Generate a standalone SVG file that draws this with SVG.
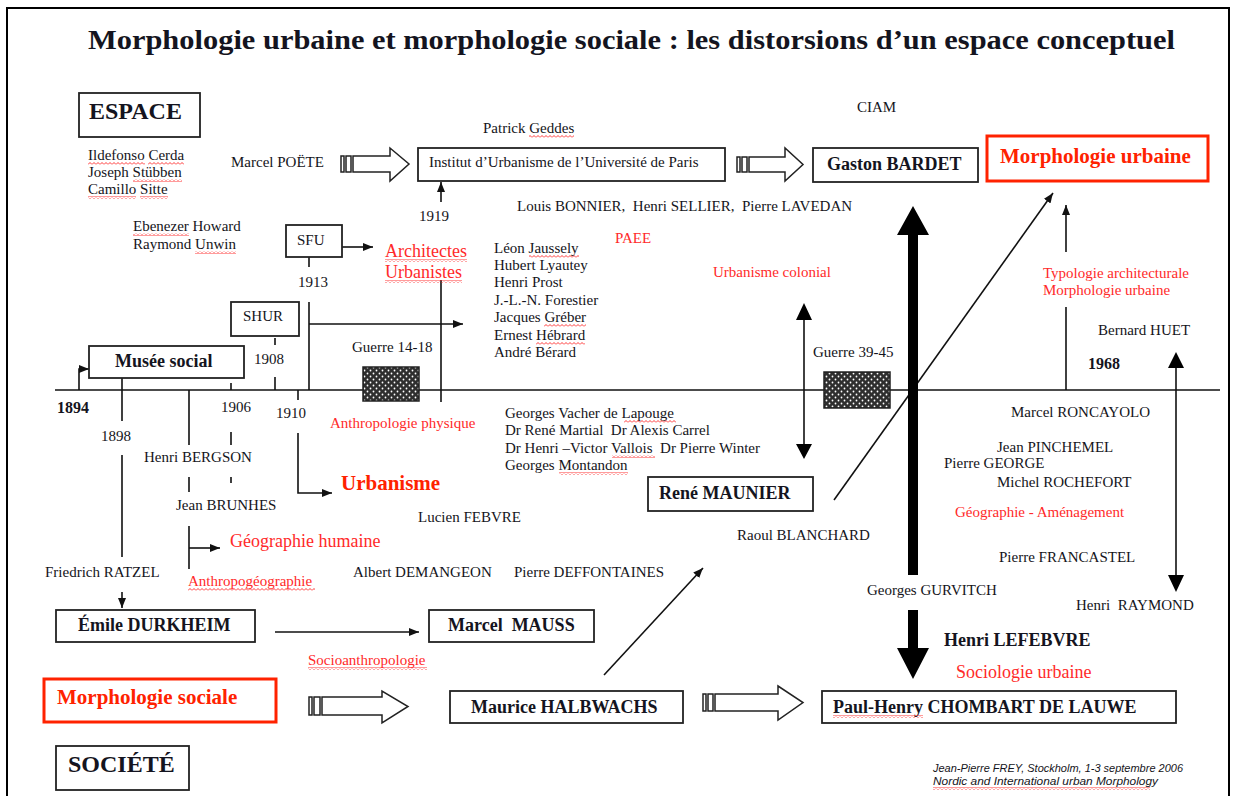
<svg xmlns="http://www.w3.org/2000/svg" width="1243" height="796" viewBox="0 0 1243 796">
<style>
text{font-family:"Liberation Serif","Times New Roman",serif;fill:#141420;white-space:pre}
.t{font-size:15px}
.r{font-size:15px;fill:#ff2a2a}
.rl{font-size:18px;fill:#ff2a2a}
.b{font-size:18px;font-weight:bold}
.bb{font-size:24px;font-weight:bold}
.y{font-size:16px;font-weight:bold}
.rb{font-size:21px;font-weight:bold;fill:#ff2200}
.box{fill:#fff;stroke:#222;stroke-width:1.8}
.rbox{fill:#fff;stroke:#ff2200;stroke-width:3}
.ln{stroke:#111;stroke-width:1.6;fill:none}
.ar{stroke:#111;stroke-width:1.6;fill:none;marker-end:url(#ah)}
.ha{fill:#fff;stroke:#222;stroke-width:1.5}
.war{fill:url(#dots);stroke:#222;stroke-width:1.5}
.sq{fill:url(#wavy)}
.foot{font-family:"Liberation Sans",Arial,sans-serif;font-style:italic;font-size:10px}
</style>
<defs>
<marker id="ah" viewBox="0 0 10 8" refX="10" refY="4" markerWidth="10" markerHeight="8" markerUnits="userSpaceOnUse" orient="auto"><path d="M0 0 L10 4 L0 8 Z" fill="#111"/></marker>
<pattern id="dots" width="6" height="6" patternUnits="userSpaceOnUse"><rect width="6" height="6" fill="#2e2e2e"/><circle cx="1.5" cy="1.5" r="0.9" fill="#fff"/><circle cx="4.5" cy="4.5" r="0.9" fill="#fff"/></pattern>
<pattern id="wavy" width="4" height="3" patternUnits="userSpaceOnUse"><path d="M0 2.5 L2 0.5 L4 2.5" fill="none" stroke="#ff2020" stroke-width="0.9"/></pattern>
</defs>
<rect width="1243" height="796" fill="#fff"/>
<rect x="7" y="8" width="1222" height="800" fill="none" stroke="#000" stroke-width="2"/>
<text x="88" y="49" font-size="27" font-weight="bold" textLength="1087" lengthAdjust="spacingAndGlyphs">Morphologie urbaine et morphologie sociale : les distorsions d’un espace conceptuel</text>

<g id="connectors">
<path class="ln" d="M55 390 H1220" stroke-width="2"/>
<path class="ar" d="M79 390 V369 H89"/>
<path class="ln" d="M122 378 V421 M122 455 V557"/>
<path class="ar" d="M122 592 V608"/>
<path class="ln" d="M189 390 V445 M189 477 V492 M189 526 V569"/>
<path class="ar" d="M189 548 H220"/>
<path class="ln" d="M231 383 V390 M231 432 V445 M231 477 V483"/>
<path class="ln" d="M275 338 V345 M275 377 V390"/>
<path class="ln" d="M298 390 V400"/>
<path class="ar" d="M298 433 V493 H332"/>
<path class="ln" d="M309 302 V390"/>
<path class="ar" d="M309 324 H463"/>
<path class="ln" d="M309 257 V267"/>
<path class="ar" d="M342 247 H373"/>
<path class="ln" d="M441 280 V402"/>
<path class="ar" d="M441 202 V182"/>
<path class="ar" d="M275 632 H419"/>
<path class="ar" d="M604 675 L703 568"/>
<path class="ar" d="M834 500 L1053 193" stroke-width="1.3"/>
<path class="ar" d="M1066 252 V205"/>
<path class="ln" d="M1066 307 V390"/>
<path d="M908 235 H897 L913 206 L929 235 H918 V575 H908 Z" fill="#000"/>
<path d="M908 610 H918 V648 H929 L913 679 L897 648 H908 Z" fill="#000"/>
<path class="ln" d="M804 318 V446" stroke-width="2.5"/>
<path d="M796 320 L804 303 L812 320 Z M796 444 L812 444 L804 459 Z" fill="#000"/>
<path class="ln" d="M1176 366 V577" stroke-width="2.5"/>
<path d="M1168 368 L1176 352 L1184 368 Z M1168 575 L1184 575 L1176 592 Z" fill="#000"/>
<g id="hollow-arrows">
<rect class="ha" x="341" y="156" width="3" height="16"/><rect class="ha" x="346" y="156" width="5" height="16"/>
<path class="ha" d="M353 156 H390 V148 L409 164 L390 181 V172 H353 Z"/>
<rect class="ha" x="737" y="157" width="3" height="15"/><rect class="ha" x="742" y="157" width="5" height="15"/>
<path class="ha" d="M749 157 H785 V148 L803 164.5 L785 181 V172 H749 Z"/>
<rect class="ha" x="309" y="697" width="3" height="18"/><rect class="ha" x="314" y="697" width="6" height="18"/>
<path class="ha" d="M322 697 H382 V691 L408 706.5 L382 723 V715 H322 Z"/>
<rect class="ha" x="703" y="694" width="3" height="17"/><rect class="ha" x="708" y="694" width="5" height="17"/>
<path class="ha" d="M715 694 H778 V686 L803 702.5 L778 720 V711 H715 Z"/>
</g>
</g>

<g id="espace"><rect class="box" x="79" y="93" width="121" height="44"/><text class="bb" x="89" y="119">ESPACE</text></g>
<g id="societe"><rect class="box" x="56" y="746" width="133" height="44"/><text class="bb" x="68" y="772">SOCIÉTÉ</text></g>
<g id="institut"><rect class="box" x="418" y="148" width="307" height="33"/><text class="t" x="429" y="167">Institut d’Urbanisme de l’Université de Paris</text></g>
<g id="bardet"><rect class="box" x="813" y="148" width="165" height="34"/><text class="b" x="827" y="170">Gaston BARDET</text></g>
<g id="morphologie-urbaine"><rect class="rbox" x="987" y="136" width="221" height="45"/><text class="rb" x="1000" y="163">Morphologie urbaine</text></g>
<g id="musee-social"><rect class="box" x="89" y="346" width="155" height="32"/><text class="b" x="115" y="367">Musée social</text></g>
<g id="shur"><rect class="box" x="231" y="302" width="68" height="34"/><text class="t" x="243" y="321">SHUR</text></g>
<g id="sfu"><rect class="box" x="286" y="225" width="56" height="32"/><text class="t" x="297" y="245">SFU</text></g>
<g id="guerre-14-18"><rect class="war" x="363" y="367" width="56" height="34"/><text class="t" x="352" y="352">Guerre 14-18</text></g>
<g id="guerre-39-45"><rect class="war" x="824" y="372" width="66" height="36"/><text class="t" x="813" y="357">Guerre 39-45</text></g>
<g id="durkheim"><rect class="box" x="56" y="610" width="199" height="32"/><text class="b" x="78" y="631">Émile DURKHEIM</text></g>
<g id="mauss"><rect class="box" x="429" y="610" width="165" height="32"/><text class="b" x="448" y="631">Marcel  MAUSS</text></g>
<g id="maunier"><rect class="box" x="648" y="477" width="165" height="34"/><text class="b" x="659" y="499">René MAUNIER</text></g>
<g id="morphologie-sociale"><rect class="rbox" x="44" y="679" width="232" height="43"/><text class="rb" x="57" y="704">Morphologie sociale</text></g>
<g id="halbwachs"><rect class="box" x="450" y="691" width="233" height="32"/><text class="b" x="471" y="713">Maurice HALBWACHS</text></g>
<g id="chombart"><rect class="box" x="822" y="691" width="354" height="32"/><text class="b" x="833" y="713">Paul-Henry CHOMBART DE LAUWE</text></g>

<g id="labels">
<text class="t" x="857" y="112">CIAM</text>
<text class="t" x="483" y="133">Patrick Geddes</text>
<text class="t" x="231" y="167">Marcel POËTE</text>
<text class="t" x="88" y="160">Ildefonso Cerda</text>
<text class="t" x="88" y="177">Joseph Stübben</text>
<text class="t" x="88" y="194">Camillo Sitte</text>
<text class="t" x="419" y="221">1919</text>
<text class="t" x="517" y="211">Louis BONNIER,  Henri SELLIER,  Pierre LAVEDAN</text>
<text class="t" x="133" y="231">Ebenezer Howard</text>
<text class="t" x="133" y="249">Raymond Unwin</text>
<text class="t" x="298" y="287">1913</text>
<text class="rl" x="385" y="257">Architectes</text>
<text class="rl" x="385" y="278">Urbanistes</text>
<text class="r" x="615" y="243">PAEE</text>
<text class="t" x="494" y="253">Léon Jaussely</text>
<text class="t" x="494" y="270">Hubert Lyautey</text>
<text class="t" x="494" y="287">Henri Prost</text>
<text class="t" x="494" y="305">J.-L.-N. Forestier</text>
<text class="t" x="494" y="322">Jacques Gréber</text>
<text class="t" x="494" y="340">Ernest Hébrard</text>
<text class="t" x="494" y="357">André Bérard</text>
<text class="r" x="713" y="277">Urbanisme colonial</text>
<text class="r" x="1043" y="278">Typologie architecturale</text>
<text class="r" x="1043" y="295">Morphologie urbaine</text>
<text class="t" x="1098" y="335">Bernard HUET</text>
<text class="t" x="254" y="364">1908</text>
<text class="y" x="1088" y="369">1968</text>
<text class="y" x="57" y="413">1894</text>
<text class="t" x="221" y="412">1906</text>
<text class="t" x="276" y="418">1910</text>
<text class="t" x="101" y="441">1898</text>
<text class="r" x="330" y="428">Anthropologie physique</text>
<text class="t" x="505" y="418">Georges Vacher de Lapouge</text>
<text class="t" x="505" y="435">Dr René Martial  Dr Alexis Carrel</text>
<text class="t" x="505" y="453">Dr Henri –Victor Vallois  Dr Pierre Winter</text>
<text class="t" x="505" y="470">Georges Montandon</text>
<text class="t" x="1011" y="417">Marcel RONCAYOLO</text>
<text class="t" x="997" y="452">Jean PINCHEMEL</text>
<text class="t" x="944" y="468">Pierre GEORGE</text>
<text class="t" x="997" y="487">Michel ROCHEFORT</text>
<text class="r" x="955" y="517">Géographie - Aménagement</text>
<text class="t" x="999" y="562">Pierre FRANCASTEL</text>
<text class="t" x="867" y="595">Georges GURVITCH</text>
<text class="t" x="1076" y="610">Henri  RAYMOND</text>
<text class="t" x="144" y="462">Henri BERGSON</text>
<text class="t" x="176" y="510">Jean BRUNHES</text>
<text class="rb" x="341" y="490">Urbanisme</text>
<text class="t" x="418" y="522">Lucien FEBVRE</text>
<text class="t" x="737" y="540">Raoul BLANCHARD</text>
<text class="rl" x="230" y="547">Géographie humaine</text>
<text class="t" x="45" y="577">Friedrich RATZEL</text>
<text class="r" x="188" y="586">Anthropogéographie</text>
<text class="t" x="353" y="577">Albert DEMANGEON</text>
<text class="t" x="514" y="577">Pierre DEFFONTAINES</text>
<text class="r" x="308" y="665">Socioanthropologie</text>
<text class="b" x="944" y="646">Henri LEFEBVRE</text>
<text class="rl" x="956" y="678">Sociologie urbaine</text>
<text class="foot" x="933" y="772" textLength="250" lengthAdjust="spacingAndGlyphs">Jean-Pierre FREY, Stockholm, 1-3 septembre 2006</text>
<text class="foot" x="933" y="785" textLength="225" lengthAdjust="spacingAndGlyphs">Nordic and International urban Morphology</text>
</g>

<g id="spellcheck-underlines">
<rect class="sq" x="88" y="162" width="57" height="3"/>
<rect class="sq" x="148" y="162" width="36" height="3"/>
<rect class="sq" x="133" y="179" width="49" height="3"/>
<rect class="sq" x="88" y="196" width="48" height="3"/>
<rect class="sq" x="140" y="196" width="28" height="3"/>
<rect class="sq" x="133" y="233" width="56" height="3"/>
<rect class="sq" x="195" y="251" width="41" height="3"/>
<rect class="sq" x="529" y="135" width="45" height="3"/>
<rect class="sq" x="529" y="255" width="50" height="3"/>
<rect class="sq" x="544" y="324" width="42" height="3"/>
<rect class="sq" x="536" y="342" width="49" height="3"/>
<rect class="sq" x="624" y="420" width="52" height="3"/>
<rect class="sq" x="612" y="455" width="43" height="3"/>
<rect class="sq" x="559" y="472" width="69" height="3"/>
<rect class="sq" x="385" y="259" width="82" height="3"/>
<rect class="sq" x="385" y="280" width="77" height="3"/>
<rect class="sq" x="188" y="588" width="127" height="3"/>
<rect class="sq" x="308" y="667" width="119" height="3"/>
<rect class="sq" x="833" y="715" width="90" height="3"/>
<rect class="sq" x="933" y="787" width="217" height="3"/>
</g>
</svg>
